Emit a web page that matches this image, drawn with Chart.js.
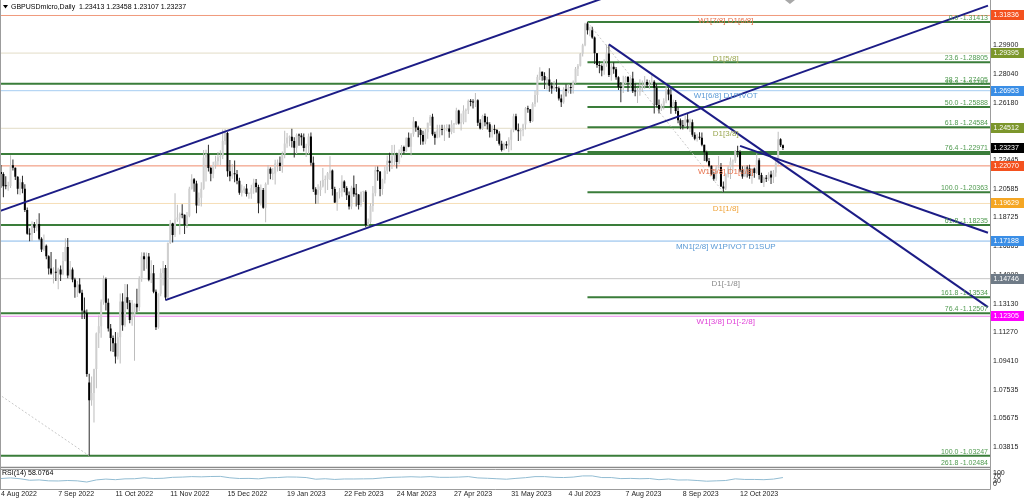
<!DOCTYPE html>
<html><head><meta charset="utf-8">
<script src="https://cdn.jsdelivr.net/npm/chart.js@4.4.1/dist/chart.umd.min.js"></script>
<style>html,body{margin:0;padding:0;background:#fff;overflow:hidden}canvas{display:block}</style>
</head><body>
<canvas id="c" width="1024" height="499"></canvas>
<script>
// ---- Daily candles [open, high, low, close], one array per month ----
const aug2022 = [
[1.2168,1.2213,1.2065,1.2155],[1.2155,1.2165,1.2004,1.2075],
[1.2075,1.2139,1.2055,1.2074],[1.2074,1.2104,1.2046,1.2077],[1.2077,1.2276,1.2063,1.2211],[1.2211,1.2249,1.2177,1.2195],[1.2195,1.2197,1.2116,1.2137],
[1.2137,1.2140,1.2023,1.2058],[1.2058,1.2124,1.2020,1.2101],[1.2101,1.2143,1.2030,1.2058],[1.2058,1.2087,1.1908,1.1920],[1.1920,1.1936,1.1760,1.1766],
[1.1766,1.1802,1.1717,1.1761],[1.1761,1.1848,1.1719,1.1826],[1.1826,1.1843,1.1772,1.1805],[1.1805,1.1861,1.1783,1.1830],[1.1830,1.1900,1.1724,1.1734],
[1.1734,1.1743,1.1648,1.1664],[1.1664,1.1761,1.1654,1.1688],[1.1688,1.1697,1.1600,1.1621]];
const sep2022 = [
[1.1621,1.1627,1.1501,1.1540],[1.1540,1.1648,1.1500,1.1509],
[1.1509,1.1549,1.1444,1.1515],[1.1515,1.1600,1.1460,1.1513],[1.1513,1.1545,1.1406,1.1535],[1.1535,1.1560,1.1459,1.1501],[1.1501,1.1648,1.1497,1.1590],
[1.1590,1.1737,1.1587,1.1681],[1.1681,1.1738,1.1477,1.1496],[1.1496,1.1590,1.1480,1.1535],[1.1535,1.1548,1.1451,1.1470],[1.1470,1.1481,1.1351,1.1419],
[1.1419,1.1460,1.1356,1.1436],[1.1436,1.1477,1.1379,1.1383],[1.1383,1.1402,1.1213,1.1268],[1.1268,1.1352,1.1212,1.1254],[1.1254,1.1274,1.0838,1.0856],
[1.0800,1.0858,1.0325,1.0685],[1.0685,1.0840,1.0650,1.0733],[1.0733,1.0890,1.0540,1.0888],[1.0888,1.1125,1.0763,1.1120],[1.1120,1.1236,1.1025,1.1166]];
const oct2022 = [
[1.1166,1.1339,1.1091,1.1325],[1.1325,1.1495,1.1305,1.1472],[1.1472,1.1482,1.1268,1.1319],[1.1319,1.1346,1.1131,1.1151],[1.1151,1.1180,1.1003,1.1090],
[1.1090,1.1106,1.0999,1.1056],[1.1056,1.1128,1.0924,1.0970],[1.0970,1.1125,1.0950,1.1095],[1.1095,1.1379,1.0924,1.1327],[1.1327,1.1380,1.1136,1.1172],
[1.1172,1.1440,1.1162,1.1354],[1.1354,1.1438,1.1276,1.1318],[1.1318,1.1336,1.1185,1.1206],[1.1206,1.1336,1.1169,1.1232],[1.1232,1.1314,1.0941,1.1311],
[1.1311,1.1410,1.1258,1.1289],[1.1289,1.1490,1.1265,1.1474],[1.1474,1.1646,1.1455,1.1620],[1.1620,1.1644,1.1526,1.1601],[1.1601,1.1645,1.1539,1.1618],
[1.1618,1.1641,1.1458,1.1467]];
const nov2022 = [
[1.1467,1.1594,1.1446,1.1510],[1.1510,1.1564,1.1380,1.1390],[1.1390,1.1404,1.1142,1.1159],[1.1159,1.1380,1.1149,1.1376],
[1.1376,1.1540,1.1360,1.1512],[1.1512,1.1589,1.1431,1.1544],[1.1544,1.1564,1.1335,1.1353],[1.1353,1.1710,1.1338,1.1706],[1.1706,1.1855,1.1700,1.1834],
[1.1834,1.1838,1.1710,1.1758],[1.1758,1.2029,1.1745,1.1859],[1.1859,1.1955,1.1845,1.1872],[1.1872,1.1904,1.1761,1.1895],[1.1895,1.1958,1.1867,1.1890],
[1.1890,1.1892,1.1765,1.1825],[1.1825,1.1907,1.1803,1.1883],[1.1883,1.2072,1.1874,1.2058],[1.2058,1.2153,1.2053,1.2120],[1.2120,1.2128,1.2039,1.2093],
[1.2093,1.2110,1.1899,1.1950],[1.1950,1.2035,1.1946,1.2000],[1.2000,1.2100,1.1944,1.2059]];
const dec2022 = [
[1.2059,1.2310,1.2052,1.2262],[1.2262,1.2311,1.2105,1.2283],
[1.2283,1.2345,1.2170,1.2194],[1.2194,1.2202,1.2108,1.2156],[1.2156,1.2234,1.2127,1.2212],[1.2212,1.2273,1.2189,1.2237],[1.2237,1.2298,1.2212,1.2263],
[1.2263,1.2308,1.2213,1.2271],[1.2271,1.2444,1.2252,1.2368],[1.2368,1.2446,1.2344,1.2421],[1.2421,1.2427,1.2137,1.2173],[1.2173,1.2246,1.2107,1.2140],
[1.2140,1.2219,1.2124,1.2156],[1.2156,1.2242,1.2100,1.2153],[1.2153,1.2180,1.2087,1.2110],[1.2110,1.2130,1.2019,1.2033],[1.2033,1.2086,1.2008,1.2048],
[1.2048,1.2075,1.2030,1.2060],[1.2060,1.2089,1.2008,1.2025],[1.2025,1.2036,1.1993,1.2026],[1.2026,1.2084,1.1994,1.2061],[1.2061,1.2124,1.2026,1.2097]];
const jan2023 = [
[1.2097,1.2122,1.2035,1.2070],[1.2070,1.2085,1.1900,1.1965],[1.1965,1.2086,1.1950,1.2050],[1.2050,1.2063,1.1928,1.1935],[1.1935,1.2099,1.1841,1.2090],
[1.2090,1.2212,1.2083,1.2189],[1.2189,1.2198,1.2120,1.2156],[1.2156,1.2194,1.2116,1.2157],[1.2157,1.2247,1.2086,1.2222],[1.2222,1.2249,1.2170,1.2228],
[1.2228,1.2268,1.2174,1.2206],[1.2206,1.2300,1.2162,1.2282],[1.2282,1.2435,1.2256,1.2352],[1.2352,1.2420,1.2324,1.2391],[1.2391,1.2405,1.2335,1.2396],
[1.2396,1.2448,1.2326,1.2369],[1.2369,1.2393,1.2262,1.2325],[1.2325,1.2418,1.2284,1.2408],[1.2408,1.2417,1.2337,1.2405],[1.2405,1.2419,1.2339,1.2393],
[1.2393,1.2418,1.2300,1.2323],[1.2323,1.2351,1.2264,1.2338]];
const feb2023 = [
[1.2338,1.2418,1.2283,1.2398],[1.2398,1.2424,1.2210,1.2228],[1.2228,1.2268,1.2037,1.2055],
[1.2055,1.2068,1.1961,1.2020],[1.2020,1.2088,1.1960,1.2051],[1.2051,1.2111,1.2011,1.2073],[1.2073,1.2193,1.2066,1.2115],[1.2115,1.2145,1.2030,1.2120],
[1.2120,1.2168,1.2050,1.2160],[1.2160,1.2270,1.2115,1.2177],[1.2177,1.2183,1.2014,1.2057],[1.2057,1.2072,1.1966,1.1970],[1.1970,1.2038,1.1915,1.2034],
[1.2034,1.2064,1.1996,1.2040],[1.2040,1.2147,1.2006,1.2105],[1.2105,1.2113,1.2036,1.2063],[1.2063,1.2075,1.1985,1.2016],[1.2016,1.2040,1.1924,1.1943],
[1.1943,1.2078,1.1925,1.2065],[1.2065,1.2144,1.2007,1.2023]];
const mar2023 = [
[1.2023,1.2090,1.1944,1.2021],[1.2021,1.2025,1.1924,1.1953],[1.1953,1.2040,1.1941,1.2038],
[1.2038,1.2046,1.1973,1.2039],[1.2039,1.2049,1.1808,1.1823],[1.1823,1.1866,1.1802,1.1843],[1.1843,1.1965,1.1830,1.1947],[1.1947,1.2076,1.1910,1.2030],
[1.2030,1.2204,1.2010,1.2180],[1.2180,1.2203,1.2110,1.2170],[1.2170,1.2172,1.2010,1.2057],[1.2057,1.2124,1.2020,1.2117],[1.2117,1.2203,1.2092,1.2176],
[1.2176,1.2275,1.2154,1.2240],[1.2240,1.2292,1.2170,1.2226],[1.2226,1.2343,1.2186,1.2270],[1.2270,1.2344,1.2213,1.2277],[1.2277,1.2293,1.2190,1.2233],
[1.2233,1.2314,1.2217,1.2293],[1.2293,1.2343,1.2262,1.2330],[1.2330,1.2337,1.2286,1.2303],[1.2303,1.2392,1.2298,1.2389],[1.2389,1.2424,1.2328,1.2332]];
const apr2023 = [
[1.2332,1.2420,1.2274,1.2413],[1.2413,1.2525,1.2396,1.2496],[1.2496,1.2499,1.2429,1.2456],[1.2456,1.2467,1.2393,1.2440],[1.2440,1.2451,1.2345,1.2407],
[1.2407,1.2435,1.2344,1.2365],[1.2365,1.2446,1.2347,1.2425],[1.2425,1.2487,1.2384,1.2487],[1.2487,1.2537,1.2467,1.2526],[1.2526,1.2546,1.2403,1.2412],
[1.2412,1.2429,1.2344,1.2390],[1.2390,1.2474,1.2387,1.2436],[1.2436,1.2474,1.2391,1.2446],[1.2446,1.2474,1.2406,1.2440],[1.2440,1.2474,1.2368,1.2446],
[1.2446,1.2477,1.2432,1.2450],[1.2450,1.2475,1.2390,1.2428],[1.2428,1.2503,1.2413,1.2475],[1.2475,1.2485,1.2420,1.2478],[1.2478,1.2584,1.2474,1.2567]];
const may2023 = [
[1.2567,1.2571,1.2475,1.2483],[1.2483,1.2547,1.2437,1.2491],[1.2491,1.2600,1.2477,1.2565],[1.2565,1.2580,1.2490,1.2569],[1.2569,1.2638,1.2544,1.2630],
[1.2630,1.2642,1.2595,1.2622],[1.2622,1.2639,1.2580,1.2619],[1.2619,1.2680,1.2589,1.2633],[1.2633,1.2640,1.2466,1.2487],[1.2487,1.2510,1.2443,1.2450],
[1.2450,1.2539,1.2440,1.2531],[1.2531,1.2547,1.2464,1.2490],[1.2490,1.2526,1.2443,1.2478],[1.2478,1.2490,1.2391,1.2427],[1.2427,1.2470,1.2392,1.2443],
[1.2443,1.2474,1.2413,1.2440],[1.2440,1.2447,1.2368,1.2418],[1.2418,1.2432,1.2339,1.2350],[1.2350,1.2371,1.2300,1.2310],[1.2310,1.2359,1.2307,1.2349],
[1.2349,1.2367,1.2319,1.2340],[1.2340,1.2393,1.2296,1.2377],[1.2377,1.2445,1.2309,1.2438]];
const jun2023 = [
[1.2438,1.2545,1.2425,1.2530],[1.2530,1.2545,1.2437,1.2442],
[1.2442,1.2483,1.2368,1.2432],[1.2432,1.2450,1.2370,1.2438],[1.2438,1.2480,1.2400,1.2476],[1.2476,1.2589,1.2444,1.2581],[1.2581,1.2597,1.2552,1.2574],
[1.2574,1.2575,1.2487,1.2498],[1.2498,1.2621,1.2492,1.2609],[1.2609,1.2695,1.2591,1.2667],[1.2667,1.2799,1.2619,1.2784],[1.2784,1.2848,1.2764,1.2818],
[1.2818,1.2820,1.2760,1.2790],[1.2790,1.2815,1.2707,1.2763],[1.2763,1.2785,1.2703,1.2768],[1.2768,1.2841,1.2688,1.2727],[1.2727,1.2749,1.2676,1.2710],
[1.2710,1.2758,1.2696,1.2720],[1.2720,1.2770,1.2689,1.2711],[1.2711,1.2723,1.2632,1.2644],[1.2644,1.2671,1.2590,1.2620],[1.2620,1.2718,1.2611,1.2705]];
const jul2023 = [
[1.2705,1.2737,1.2658,1.2694],[1.2694,1.2735,1.2678,1.2716],[1.2716,1.2746,1.2676,1.2713],[1.2713,1.2762,1.2677,1.2747],[1.2747,1.2849,1.2740,1.2837],
[1.2837,1.2868,1.2790,1.2858],[1.2858,1.2940,1.2853,1.2935],[1.2935,1.3000,1.2918,1.2990],[1.2990,1.3137,1.2984,1.3132],[1.3132,1.31413,1.3060,1.3087],
[1.3087,1.3110,1.3049,1.3088],[1.3088,1.3110,1.3032,1.3040],[1.3040,1.3047,1.2868,1.2939],[1.2939,1.2940,1.2845,1.2862],[1.2862,1.2888,1.2809,1.2856],
[1.2856,1.2866,1.2789,1.2827],[1.2827,1.2900,1.2798,1.2890],[1.2890,1.2995,1.2850,1.2937],[1.2937,1.2996,1.2784,1.2797],[1.2797,1.2871,1.2760,1.2850],
[1.2850,1.2880,1.2805,1.2835]];
const aug2023 = [
[1.2835,1.2849,1.2767,1.2783],[1.2783,1.2789,1.2700,1.2717],[1.2717,1.2752,1.2620,1.2713],[1.2713,1.2793,1.2681,1.2747],
[1.2747,1.2790,1.2738,1.2784],[1.2784,1.2790,1.2689,1.2752],[1.2752,1.2786,1.2715,1.2775],[1.2775,1.2818,1.2680,1.2692],[1.2692,1.2743,1.2660,1.2690],
[1.2690,1.2715,1.2615,1.2690],[1.2690,1.2769,1.2662,1.2714],[1.2714,1.2761,1.2687,1.2725],[1.2725,1.2790,1.2708,1.2752],[1.2752,1.2768,1.2714,1.2734],
[1.2734,1.2764,1.2708,1.2740],[1.2740,1.2800,1.2731,1.2753],[1.2753,1.2763,1.2548,1.2715],[1.2715,1.2740,1.2588,1.2602],[1.2602,1.2638,1.2548,1.2574],
[1.2574,1.2610,1.2563,1.2597],[1.2597,1.2646,1.2573,1.2626],[1.2626,1.2746,1.2613,1.2703],[1.2703,1.2714,1.2633,1.2670]];
const sep2023 = [
[1.2670,1.2716,1.2546,1.2589],
[1.2589,1.2637,1.2586,1.2622],[1.2622,1.2635,1.2546,1.2564],[1.2564,1.2589,1.2484,1.2503],[1.2503,1.2515,1.2445,1.2469],[1.2469,1.2505,1.2444,1.2465],
[1.2465,1.2535,1.2459,1.2508],[1.2508,1.2548,1.2445,1.2489],[1.2489,1.2515,1.2427,1.2490],[1.2490,1.2509,1.2396,1.2410],[1.2410,1.2425,1.2373,1.2383],
[1.2383,1.2415,1.2366,1.2394],[1.2394,1.2425,1.2376,1.2390],[1.2390,1.2424,1.2335,1.2344],[1.2344,1.2345,1.2239,1.2295],[1.2295,1.2306,1.2231,1.2239],
[1.2239,1.2258,1.2198,1.2208],[1.2208,1.2210,1.2148,1.2152],[1.2152,1.2169,1.2111,1.2123],[1.2123,1.2209,1.2110,1.2195],[1.2195,1.2271,1.2190,1.2199]];
const oct2023 = [
[1.2199,1.2225,1.2070,1.2073],[1.2073,1.2106,1.20363,1.2060],[1.2060,1.2160,1.2051,1.2153],[1.2153,1.2207,1.2131,1.2197],[1.2197,1.2262,1.2122,1.2236],
[1.2236,1.2249,1.2175,1.2240],[1.2240,1.2310,1.2226,1.2303],[1.2303,1.2337,1.2263,1.2297],[1.2297,1.2308,1.2165,1.2178],[1.2178,1.2205,1.2123,1.2138],
[1.2138,1.2210,1.2136,1.2196],[1.2196,1.2210,1.2132,1.2190],[1.2190,1.2215,1.2123,1.2141],[1.2141,1.2191,1.2091,1.2190],[1.2190,1.2197,1.2130,1.2161],
[1.2161,1.2287,1.2154,1.2243],[1.2243,1.2257,1.2119,1.2148],[1.2148,1.2162,1.2096,1.2098],[1.2098,1.2137,1.2070,1.2128],[1.2128,1.2148,1.2102,1.2124],
[1.2124,1.2166,1.2110,1.2151],[1.2151,1.2175,1.2089,1.2131]];
const nov2023 = [
[1.2131,1.2181,1.2096,1.2163],[1.2163,1.2246,1.2137,1.2227],[1.2227,1.2428,1.2214,1.2380],
[1.2380,1.2387,1.2330,1.2341],[1.23413,1.23458,1.23107,1.23237]];

const rsiEvery4 = [50,55,48,35,38,30,29,33,30,20,38,45,40,47,48,56,50,52,60,62,
  66,64,67,68,56,50,51,47,56,58,63,62,58,44,48,42,46,46,47,48,
  55,60,62,65,62,66,60,60,62,66,55,52,48,44,51,57,66,66,60,58,
  62,72,72,58,58,49,51,48,50,40,46,37,38,33,27,30,33,47,42,42,
  40,45,58.0764];

// Axis tick labels
const xTickLabels = ['4 Aug 2022','7 Sep 2022','11 Oct 2022','11 Nov 2022','15 Dec 2022','19 Jan 2023','22 Feb 2023',
  '24 Mar 2023','27 Apr 2023','31 May 2023','4 Jul 2023','7 Aug 2023','8 Sep 2023','12 Oct 2023'];
const priceTicks = [1.31760,1.29900,1.28040,1.26180,1.24320,1.22445,1.20585,1.18725,1.16865,1.14990,1.13130,1.11270,1.09410,1.07535,1.05675,1.03815];
const rsiTicks = [0,30,70,100];

// Murrey math levels
const mmPrices = [1.31836,1.29395,1.26953,1.24512,1.22070,1.19629,1.17188,1.14746,1.12305];
const mmTexts = ['W1[7/8] D1[6/8]','D1[5/8]','W1[6/8] D1PIVOT','D1[3/8]','W1[5/8] D1[2/8]','D1[1/8]','MN1[2/8] W1PIVOT D1SUP','D1[-1/8]','W1[3/8] D1[-2/8]'];
// Fibonacci (Jul high -> Oct low), drawn from the high
const fibALevels = [0.0,23.6,38.2,50.0,61.8,76.4,100.0,161.8];
const fibAPrices = [1.31413,1.28805,1.27192,1.25888,1.24584,1.22971,1.20363,1.13534];
const fibAStartDate = '14 Jul 2023';
// Fibonacci (long-term), full width
const fibBLevels = [38.2,61.8,76.4,100.0];
const fibBPrices = [1.27405,1.18235,1.12507,1.03247];
const fibBHidden = 1.2285;
const extLevel = 261.8, extPrice = 1.02484;
// Trend lines [barIndex, price]
const tlUpper = [[-1,1.1911],[262,1.3347]];
const tlLower = [[69,1.1335],[414,1.3248]];
const tlSteep = [[255,1.2996],[414,1.1290]];
const tlShallow = [[310,1.2337],[414,1.1773]];
const fibAConnector = [[246,1.31413],[303,1.20363]];
const fibBConnector = [[-1,1.0725],[37,1.03247]];

// ---- styles ----
const FONT = '"Liberation Sans", Arial, sans-serif';
const MM_STYLE = [
 {line:'#f09a7c',text:'#e8704a',box:'#f4511e'},
 {line:'#e2dcc6',text:'#9aa64e',box:'#7c962c'},
 {line:'#a6cdf2',text:'#5a9ad6',box:'#3a8ee6'},
 {line:'#e2dcc6',text:'#9aa64e',box:'#7c962c'},
 {line:'#ef8a6c',text:'#e8704a',box:'#f4511e'},
 {line:'#f6dfb8',text:'#f0a43a',box:'#f5a623'},
 {line:'#86b8ea',text:'#5a9ad6',box:'#3a8ee6'},
 {line:'#c6c6c6',text:'#8a8a8a',box:'#6f7b87'},
 {line:'#ee88ee',text:'#e042d8',box:'#ff00ff'}];
const FIB_LINE = '#3a7d3a', FIB_TEXT = '#4f9a4f', NAVY = '#1c1c86';
const UP = '#cfcfcf', UP_WICK = '#bdbdbd', DOWN = '#000000', DOWN_WICK = '#2a2a2a';

// ---- build ----
const candles = [].concat(aug2022,sep2022,oct2022,nov2022,dec2022,jan2023,feb2023,mar2023,apr2023,may2023,jun2023,jul2023,aug2023,sep2023,oct2023,nov2023);
const MON = ['Jan','Feb','Mar','Apr','May','Jun','Jul','Aug','Sep','Oct','Nov','Dec'];
const dates = [];
for (let t = Date.UTC(2022,7,4); dates.length < candles.length; t += 86400000) {
  const d = new Date(t), wd = d.getUTCDay();
  if (wd !== 0 && wd !== 6) dates.push(d.getUTCDate()+' '+MON[d.getUTCMonth()]+' '+d.getUTCFullYear());
}
const xTickIdx = xTickLabels.map(l => dates.indexOf(l));
const X_MIN = -0.42, X_MAX = 414.85;
const Y_MIN = 1.02420, Y_MAX = 1.32842;
const last = candles[candles.length-1];
const lastIdx = candles.length-1;
const mmLabelIdx = lastIdx - 24;
const fibAStart = dates.indexOf(fibAStartDate);

const isUp = c => c[3] >= c[0];
const hline = (x0, p, color, w, order) => ({type:'line', data:[{x:x0,y:p},{x:X_MAX,y:p}], borderColor:color, borderWidth:w,
  pointRadius:0, yAxisID:'y', xAxisID:'x', order:order, tension:0});
const seg = (pts, color, w, order, dash) => ({type:'line', data:pts.map(p=>({x:p[0],y:p[1]})), borderColor:color, borderWidth:w,
  borderDash: dash||[], pointRadius:0, yAxisID:'y', xAxisID:'x', order:order, tension:0});

const datasets = [];
mmPrices.forEach((p,i)=>datasets.push(hline(X_MIN,p,MM_STYLE[i].line,1,30)));
fibBPrices.forEach(p=>datasets.push(hline(X_MIN,p,FIB_LINE,2,28)));
datasets.push(hline(X_MIN,fibBHidden,FIB_LINE,2,28));
datasets.push(hline(X_MIN,extPrice,'#8a8a8a',1.5,28));
fibAPrices.forEach(p=>datasets.push(hline(fibAStart,p,FIB_LINE,2,27)));
datasets.push(seg(fibAConnector,'#c8c8c8',1,26,[2,2]));
datasets.push(seg(fibBConnector,'#c8c8c8',1,26,[2,2]));
datasets.push({type:'bar', data:candles.map((c,i)=>({x:i,y:[c[2],c[1]]})),
  backgroundColor:candles.map(c=>isUp(c)?UP_WICK:DOWN_WICK), barThickness:1, grouped:false, inflateAmount:0, borderWidth:0,
  yAxisID:'y', xAxisID:'x', order:20});
datasets.push({type:'bar', data:candles.map((c,i)=>({x:i,y:[c[0],c[3]]})),
  backgroundColor:candles.map(c=>isUp(c)?UP:DOWN), barThickness:2, grouped:false, inflateAmount:0, borderWidth:0, minBarLength:1,
  yAxisID:'y', xAxisID:'x', order:19});
[tlUpper,tlLower,tlSteep,tlShallow].forEach(t=>datasets.push(seg(t,NAVY,2,5)));
datasets.push({type:'line', data:rsiEvery4.map((v,k)=>({x:k*4,y:v})), borderColor:'#92bcd2', borderWidth:1, pointRadius:0,
  yAxisID:'yRsi', xAxisID:'x', order:4, tension:0});

const overlay = {
  id:'overlay',
  afterDatasetsDraw(chart){
    const {ctx} = chart, x = chart.scales.x, y = chart.scales.y;
    ctx.save();
    ctx.font = '8px '+FONT; ctx.textAlign='center'; ctx.textBaseline='top';
    mmPrices.forEach((p,i)=>{ ctx.fillStyle = MM_STYLE[i].text;
      ctx.fillText(mmTexts[i], x.getPixelForValue(mmLabelIdx), y.getPixelForValue(p)+1.5); });
    ctx.font = '7px '+FONT; ctx.textAlign='right'; ctx.textBaseline='bottom'; ctx.fillStyle = FIB_TEXT;
    const rx = chart.chartArea.right - 2;
    const fl = (lv,p)=>ctx.fillText(lv.toFixed(1)+' -'+p.toFixed(5), rx, y.getPixelForValue(p)-0.5);
    fibAPrices.forEach((p,i)=>fl(fibALevels[i],p));
    fibBPrices.forEach((p,i)=>fl(fibBLevels[i],p));
    fl(extLevel, extPrice);
    ctx.restore();
  },
  afterDraw(chart){
    const {ctx, chartArea:ca} = chart, x = chart.scales.x, y = chart.scales.y, r = chart.scales.yRsi;
    ctx.save();
    const R = Math.round(ca.right)+0.5;
    ctx.strokeStyle='#9c9c9c'; ctx.lineWidth=1; ctx.beginPath();
    ctx.moveTo(R,0); ctx.lineTo(R,Math.round(r.bottom)+0.5);
    ctx.moveTo(0,Math.round(y.bottom)+0.5); ctx.lineTo(R,Math.round(y.bottom)+0.5);
    ctx.moveTo(0,Math.round(r.bottom)+0.5); ctx.lineTo(R,Math.round(r.bottom)+0.5);
    ctx.moveTo(0.5,0); ctx.lineTo(0.5,Math.round(r.bottom)+0.5);
    ctx.stroke();
    // price boxes
    ctx.font='7px '+FONT; ctx.textAlign='left'; ctx.textBaseline='middle';
    const box=(p,col)=>{ const py=y.getPixelForValue(p); ctx.fillStyle=col; ctx.fillRect(R+0.5,Math.round(py)-5,1024-R,10);
      ctx.fillStyle='#fff'; ctx.fillText(p.toFixed(5),R+3,Math.round(py)+0.5); };
    mmPrices.forEach((p,i)=>box(p,MM_STYLE[i].box));
    box(last[3],'#000');
    // header
    ctx.fillStyle='#000'; ctx.beginPath(); ctx.moveTo(3,5); ctx.lineTo(8,5); ctx.lineTo(5.5,8.5); ctx.closePath(); ctx.fill();
    ctx.fillText('GBPUSDmicro,Daily  '+last.map(v=>v.toFixed(5)).join(' '), 11, 7.5);
    // RSI label
    ctx.fillText('RSI(14) '+rsiEvery4[rsiEvery4.length-1].toFixed(4), 2, r.top+4.5);
    // chart shift marker
    const sx = x.getPixelForValue(lastIdx)+7;
    ctx.fillStyle='#a8a8a8'; ctx.beginPath(); ctx.moveTo(sx-5,0); ctx.lineTo(sx+5,0); ctx.lineTo(sx,4); ctx.closePath(); ctx.fill();
    ctx.restore();
  }
};

const noPad = s => { s.paddingTop=0; s.paddingBottom=0; s.paddingLeft=0; s.paddingRight=0; };
new Chart(document.getElementById('c'), {
  type:'bar',
  data:{datasets},
  options:{
    responsive:false, animation:false, devicePixelRatio:1, events:[],
    layout:{padding:0},
    plugins:{legend:{display:false}, tooltip:{enabled:false}},
    scales:{
      x:{type:'linear', min:X_MIN, max:X_MAX, offset:false, grid:{display:false, drawTicks:false, offset:false}, border:{display:false},
        afterBuildTicks:s=>{ s.ticks = xTickIdx.map(v=>({value:v})); },
        afterFit:s=>{ s.height=10.5; noPad(s); },
        ticks:{autoSkip:false, maxRotation:0, align:'start', padding:1, color:'#222', font:{size:7,family:FONT},
          callback:(v,i)=>xTickLabels[i]}},
      y:{type:'linear', axis:'y', position:'right', stack:'pane', stackWeight:468.5, min:Y_MIN, max:Y_MAX,
        grid:{display:false, drawTicks:false}, border:{display:false},
        afterBuildTicks:s=>{ s.ticks = priceTicks.map(v=>({value:v})); },
        afterFit:s=>{ s.width=34; noPad(s); },
        ticks:{autoSkip:false, padding:3, color:'#222', font:{size:7,family:FONT}, callback:v=>v.toFixed(5)}},
      yRsi:{type:'linear', axis:'y', position:'right', stack:'pane', stackWeight:20, min:-35, max:135,
        grid:{display:false, drawTicks:false}, border:{display:false},
        afterBuildTicks:s=>{ s.ticks = rsiTicks.map(v=>({value:v})); },
        afterFit:s=>{ s.width=34; noPad(s); },
        ticks:{autoSkip:false, padding:3, color:'#222', font:{size:7,family:FONT}, callback:v=>String(v)}}
    }
  },
  plugins:[overlay]
});
</script>
</body></html>
